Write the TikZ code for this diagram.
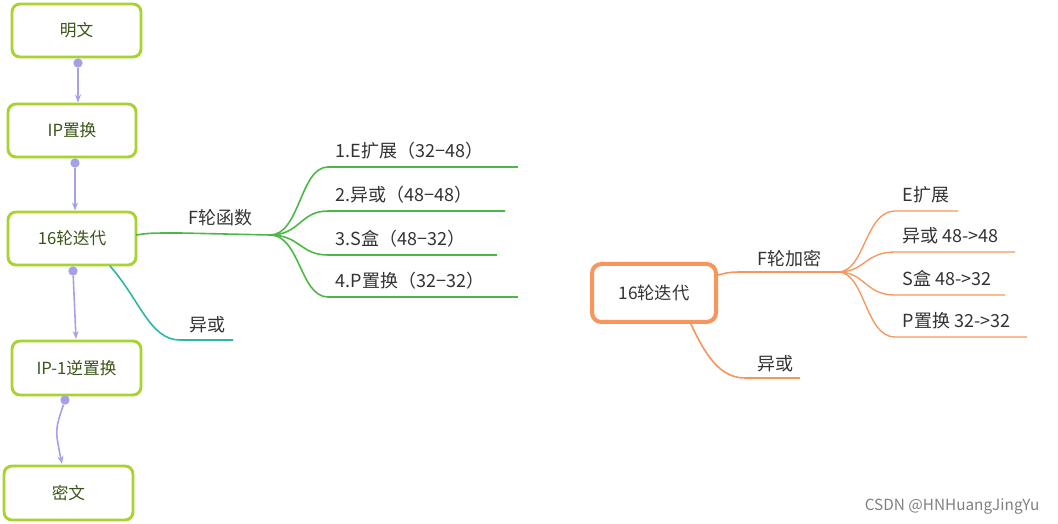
\documentclass[tikz,border=0pt]{standalone}
\usepackage{fontspec}
\setmainfont{Noto Sans CJK SC}
\usetikzlibrary{arrows.meta}
\definecolor{lime}{HTML}{A8D330}
\definecolor{dgreen}{HTML}{3A5518}
\definecolor{purp}{HTML}{A4A1E8}
\definecolor{brg}{HTML}{4DB848}
\definecolor{teal2}{HTML}{2DB5A5}
\definecolor{org}{HTML}{F7955B}
\definecolor{txt}{HTML}{333333}
\begin{document}
\begin{tikzpicture}[x=0.75pt,y=-0.75pt,
 gbox/.style={draw=lime,line width=2.2pt,rounded corners=6pt,fill=white,text=dgreen,font=\fontsize{12.5}{14}\selectfont},
 obox/.style={draw=org,line width=3pt,rounded corners=7pt,fill=white,text=txt,font=\fontsize{13}{15}\selectfont},
 lab/.style={text=txt,font=\fontsize{13.5}{16}\selectfont,anchor=base west},
 conn/.style={draw=purp,line width=1.2pt,-{Stealth[length=6pt]}},
 dotc/.style={circle,fill=purp,inner sep=0pt,minimum size=7pt}]
\useasboundingbox (0,0) rectangle (1058,524);
\node[gbox,minimum width=129*0.75pt,minimum height=53*0.75pt] (a) at (76.5,30.5) {明文};
\node[gbox,minimum width=128*0.75pt,minimum height=53*0.75pt] (b) at (72,130.5) {IP置换};
\node[gbox,minimum width=128*0.75pt,minimum height=53*0.75pt] (c) at (72,238.5) {16轮迭代};
\node[gbox,minimum width=129*0.75pt,minimum height=54*0.75pt] (d) at (76.5,368) {IP-1逆置换};
\node[gbox,minimum width=129*0.75pt,minimum height=54*0.75pt] (e) at (68.5,493) {密文};
\node[dotc] (pa) at (78,63) {};
\node[dotc] (pb) at (75,163) {};
\node[dotc] (pc) at (73,271) {};
\node[dotc] (pd) at (65,400) {};
\draw[conn] (pa) -- (b.north-|pa);
\draw[conn] (pb) -- (c.north-|pb);
\draw[conn] (pc) -- (76,339);
\draw[conn] (pd) .. controls (55,430) .. (62,464);
\coordinate (f0) at (136,235);
\coordinate (f1) at (270,235);
\draw[brg,line width=1.2pt] (f0) .. controls (150,233) .. (180,233) -- (f1);
\node[lab] (ft) at (184,225) {F轮函数};
\foreach \y/\xe/\t in {167/518/1.E扩展（32−48）,211/505/2.异或（48−48）,255/497/3.S盒（48−32）,297/518/4.P置换（32−32）}{
 \draw[brg,line width=1.2pt] (f1) .. controls (300,235) and (300,\y) .. (328,\y) -- (\xe,\y);
 \node[lab] at (331,\y-9) {\t};}
\draw[teal2,line width=1.2pt] (110,266) .. controls (140,300) and (150,340) .. (180,340) -- (233,340);
\node[lab] at (185,331) {异或};
\node[obox,minimum width=124*0.75pt,minimum height=58*0.75pt] (r) at (654,293) {16轮迭代};
\coordinate (g1) at (838,272);
\draw[org,line width=1.2pt] (r.east|-0,275) .. controls (730,272) .. (748,272) -- (g1);
\node[lab] at (753,266) {F轮加密};
\foreach \y/\xe/\t in {211/958/E扩展,252/1015/异或 48->48,295/1005/S盒 48->32,337/1027/P置换 32->32}{
 \draw[org,line width=1pt] (g1) .. controls (865,272) and (865,\y) .. (895,\y) -- (\xe,\y);
 \node[lab] at (898,\y-9) {\t};}
\draw[org,line width=1.2pt] (690,322) .. controls (705,355) and (720,378) .. (745,378) -- (800,378);
\node[lab] at (753,371) {异或};
\node[text=gray,font=\fontsize{11.5}{13}\selectfont,anchor=base east] at (1044,510) {CSDN @HNHuangJingYu};
\end{tikzpicture}
\end{document}
